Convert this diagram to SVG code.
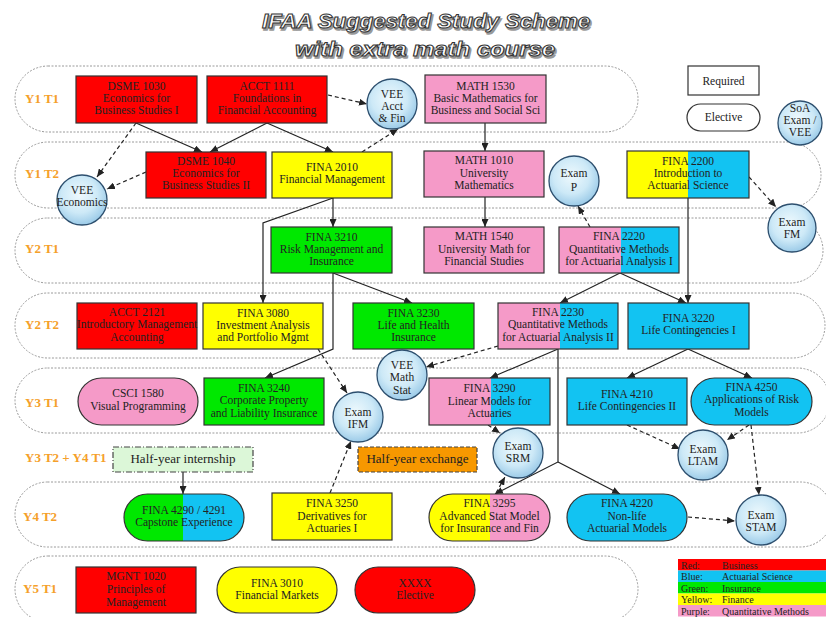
<svg xmlns="http://www.w3.org/2000/svg" width="826" height="617" viewBox="0 0 826 617">
<defs>
<style>
.band{fill:#fff;stroke:#9a9a9a;stroke-width:1;stroke-dasharray:2 1.5}
.n{stroke:#333;stroke-width:1.2}
.red{fill:#FF0000}.yel{fill:#FFFF00}.grn{fill:#00E800}.blu{fill:#12C3F2}.pnk{fill:#F59AC8}
.pb{fill:url(#gpb)}.yb{fill:url(#gyb)}.gb{fill:url(#ggb)}.yp{fill:url(#gyp)}
.t{font-family:"Liberation Serif","Times New Roman",serif;font-size:11.5px;fill:#222;text-anchor:middle}
.lbl{font-family:"Liberation Serif","Times New Roman",serif;font-size:13px;font-weight:bold;fill:#F5A02A}
.c{fill:url(#cg);stroke:#2d4f6e;stroke-width:1.3}
.s{fill:none;stroke:#222;stroke-width:1.2;marker-end:url(#ah)}
.d{fill:none;stroke:#222;stroke-width:1.2;stroke-dasharray:4 3;marker-end:url(#ah)}
.lg{font-family:"Liberation Serif","Times New Roman",serif;font-size:10px;fill:#222}
.ttl{font-family:"Liberation Sans",Arial,sans-serif;font-size:20px;font-weight:bold;font-style:italic;fill:#fff;stroke:#333;stroke-width:1}
.tsh{font-family:"Liberation Sans",Arial,sans-serif;font-size:20px;font-weight:bold;font-style:italic;fill:#999;stroke:#999;stroke-width:1.5}
</style>
<marker id="ah" markerUnits="userSpaceOnUse" markerWidth="9" markerHeight="7" refX="8" refY="3.5" orient="auto">
<path d="M0,0 L8,3.5 L0,7 z" fill="#222"/>
</marker>
<radialGradient id="cg" cx="0.45" cy="0.4" r="0.6">
<stop offset="0" stop-color="#eef9fd"/>
<stop offset="0.6" stop-color="#cde9f7"/>
<stop offset="1" stop-color="#9ccbe8"/>
</radialGradient>
<linearGradient id="gpb" x1="0" y1="0" x2="1" y2="0"><stop offset="0.515" stop-color="#F59AC8"/><stop offset="0.515" stop-color="#12C3F2"/></linearGradient>
<linearGradient id="gyb" x1="0" y1="0" x2="1" y2="0"><stop offset="0.5" stop-color="#FFFF00"/><stop offset="0.5" stop-color="#12C3F2"/></linearGradient>
<linearGradient id="ggb" x1="0" y1="0" x2="1" y2="0"><stop offset="0.49" stop-color="#00E800"/><stop offset="0.49" stop-color="#12C3F2"/></linearGradient>
<linearGradient id="gyp" x1="0" y1="0" x2="1" y2="0"><stop offset="0.5" stop-color="#FFFF00"/><stop offset="0.5" stop-color="#F59AC8"/></linearGradient>
</defs>
<rect x="0" y="0" width="826" height="617" fill="#fff"/>

<g id="title">
<text class="tsh" x="263.5" y="29.5" textLength="328" lengthAdjust="spacingAndGlyphs">IFAA Suggested Study Scheme</text>
<text class="ttl" x="262" y="28" textLength="328" lengthAdjust="spacingAndGlyphs">IFAA Suggested Study Scheme</text>
<text class="tsh" x="296.5" y="57.5" textLength="260" lengthAdjust="spacingAndGlyphs">with extra math course</text>
<text class="ttl" x="295" y="56" textLength="260" lengthAdjust="spacingAndGlyphs">with extra math course</text>
</g>

<g id="bands">
<rect class="band" x="15" y="66" width="623" height="66" rx="33"/>
<rect class="band" x="15" y="142" width="806" height="66" rx="33"/>
<rect class="band" x="15" y="218" width="808" height="65" rx="32.5"/>
<rect class="band" x="15" y="293" width="810" height="65" rx="32.5"/>
<rect class="band" x="15" y="368" width="815" height="65" rx="32.5"/>
<rect class="band" x="15" y="482" width="818" height="65" rx="32.5"/>
<rect class="band" x="15" y="556" width="623" height="66" rx="33"/>
<text class="lbl" x="25" y="103">Y1 T1</text>
<text class="lbl" x="25" y="178">Y1 T2</text>
<text class="lbl" x="25" y="253">Y2 T1</text>
<text class="lbl" x="25" y="329">Y2 T2</text>
<text class="lbl" x="25" y="407">Y3 T1</text>
<text class="lbl" x="25" y="462">Y3 T2 + Y4 T1</text>
<text class="lbl" x="23" y="521">Y4 T2</text>
<text class="lbl" x="23" y="593">Y5 T1</text>
</g>

<g id="connectors">
<path class="s" d="M136,123 L202,152"/>
<path class="s" d="M267,123 L210,152"/>
<path class="s" d="M267,123 L333,152"/>
<path class="s" d="M485,123 L485,151"/>
<path class="s" d="M485,197 L485,227"/>
<path class="s" d="M333,198 L333,227"/>
<path class="s" d="M333,198 L263,223 L263,303"/>
<path class="s" d="M333,273 L412,303"/>
<path class="s" d="M333,273 L333,349 L265,378"/>
<path class="s" d="M620,273 L560,303"/>
<path class="s" d="M620,273 L686,303"/>
<path class="s" d="M688,198 L688,303"/>
<path class="s" d="M558,349 L490,378"/>
<path class="s" d="M558,349 L558,462 L495,494"/>
<path class="s" d="M558,462 L620,494"/>
<path class="s" d="M688,349 L627,378"/>
<path class="s" d="M688,349 L752,378"/>
<path class="s" d="M183,472 L183,494"/>
<path class="d" d="M136,123 L97,177"/>
<path class="d" d="M146,172 L107,189"/>
<path class="d" d="M328,95 L367,104"/>
<path class="d" d="M362,152 L398,129"/>
<path class="d" d="M590,227 L578,206"/>
<path class="d" d="M749,177 L776,207"/>
<path class="d" d="M498,346 L426,367"/>
<path class="d" d="M318,349 L347,393"/>
<path class="d" d="M330,493 L351,441"/>
<path class="d" d="M488,425 L500,433"/>
<path class="d" d="M496,493 L505,477"/>
<path class="d" d="M627,425 L680,449"/>
<path class="d" d="M749,425 L727,440"/>
<path class="d" d="M751,425 L759,495"/>
<path class="d" d="M688,517 L735,521"/>
</g>

<g id="legend-required"><rect x="688" y="66" width="71" height="29" fill="#fff" class="n"/><text class="t" x="723.5" y="85">Required</text></g>
<g id="legend-elective"><rect x="687" y="104" width="73" height="27" rx="13.5" fill="#fff" class="n"/><text class="t" x="723.5" y="121">Elective</text></g>

<g id="dsme1030"><rect class="n red" x="76" y="76" width="121" height="47"/><text class="t" x="136.5" y="90">DSME 1030</text><text class="t" x="136.5" y="102">Economics for</text><text class="t" x="136.5" y="114">Business Studies I</text></g>
<g id="acct1111"><rect class="n red" x="207" y="76" width="120" height="47"/><text class="t" x="267" y="90">ACCT 1111</text><text class="t" x="267" y="102">Foundations in</text><text class="t" x="267" y="114">Financial Accounting</text></g>
<g id="vee-acct"><circle class="c" cx="392" cy="104" r="25"/><text class="t" x="392" y="98">VEE</text><text class="t" x="392" y="110">Acct</text><text class="t" x="392" y="122">&amp; Fin</text></g>
<g id="math1530"><rect class="n pnk" x="425" y="75" width="121" height="48"/><text class="t" x="485.5" y="90">MATH 1530</text><text class="t" x="485.5" y="102">Basic Mathematics for</text><text class="t" x="485.5" y="114">Business and Social Sci</text></g>
<g id="soa"><circle class="c" cx="800" cy="123" r="22"/><text class="t" x="800" y="112">SoA</text><text class="t" x="800" y="124">Exam /</text><text class="t" x="800" y="136">VEE</text></g>

<g id="dsme1040"><rect class="n red" x="146" y="152" width="120" height="46"/><text class="t" x="206" y="165">DSME 1040</text><text class="t" x="206" y="177">Economics for</text><text class="t" x="206" y="189">Business Studies II</text></g>
<g id="fina2010"><rect class="n yel" x="272" y="152" width="120" height="46"/><text class="t" x="332" y="171">FINA 2010</text><text class="t" x="332" y="183">Financial Management</text></g>
<g id="vee-econ"><circle class="c" cx="82" cy="200" r="25"/><text class="t" x="82" y="194">VEE</text><text class="t" x="82" y="206">Economics</text></g>
<g id="math1010"><rect class="n pnk" x="424" y="151" width="120" height="46"/><text class="t" x="484" y="164">MATH 1010</text><text class="t" x="484" y="177">University</text><text class="t" x="484" y="189">Mathematics</text></g>
<g id="exam-p"><circle class="c" cx="574" cy="181" r="25"/><text class="t" x="574" y="177">Exam</text><text class="t" x="574" y="191">P</text></g>
<g id="fina2200"><rect class="n yb" x="627" y="151" width="122" height="47"/><text class="t" x="688" y="165">FINA 2200</text><text class="t" x="688" y="177">Introduction to</text><text class="t" x="688" y="189">Actuarial Science</text></g>
<g id="exam-fm"><circle class="c" cx="792" cy="228" r="24"/><text class="t" x="792" y="226">Exam</text><text class="t" x="792" y="238">FM</text></g>

<g id="fina3210"><rect class="n grn" x="271" y="227" width="121" height="46"/><text class="t" x="331.5" y="241">FINA 3210</text><text class="t" x="331.5" y="253">Risk Management and</text><text class="t" x="331.5" y="265">Insurance</text></g>
<g id="math1540"><rect class="n pnk" x="424" y="227" width="120" height="46"/><text class="t" x="484" y="240">MATH 1540</text><text class="t" x="484" y="253">University Math for</text><text class="t" x="484" y="265">Financial Studies</text></g>
<g id="fina2220"><rect class="n pb" x="559" y="227" width="120" height="46"/><text class="t" x="619" y="240">FINA 2220</text><text class="t" x="619" y="253">Quantitative Methods</text><text class="t" x="619" y="265">for Actuarial Analysis I</text></g>

<g id="acct2121"><rect class="n red" x="77" y="303" width="120" height="46"/><text class="t" x="137" y="316">ACCT 2121</text><text class="t" x="137" y="328">Introductory Management</text><text class="t" x="137" y="341">Accounting</text></g>
<g id="fina3080"><rect class="n yel" x="203" y="303" width="120" height="46"/><text class="t" x="263" y="317">FINA 3080</text><text class="t" x="263" y="329">Investment Analysis</text><text class="t" x="263" y="341">and Portfolio Mgmt</text></g>
<g id="fina3230"><rect class="n grn" x="353" y="303" width="121" height="46"/><text class="t" x="413.5" y="317">FINA 3230</text><text class="t" x="413.5" y="329">Life and Health</text><text class="t" x="413.5" y="341">Insurance</text></g>
<g id="fina2230"><rect class="n pb" x="498" y="303" width="120" height="46"/><text class="t" x="558" y="316">FINA 2230</text><text class="t" x="558" y="328">Quantitative Methods</text><text class="t" x="558" y="341">for Actuarial Analysis II</text></g>
<g id="fina3220"><rect class="n blu" x="628" y="303" width="121" height="46"/><text class="t" x="688.5" y="322">FINA 3220</text><text class="t" x="688.5" y="334">Life Contingencies I</text></g>

<g id="csci1580"><rect class="n pnk" x="78" y="378" width="120" height="47" rx="23.5"/><text class="t" x="138" y="397">CSCI 1580</text><text class="t" x="138" y="410">Visual Programming</text></g>
<g id="fina3240"><rect class="n grn" x="204" y="378" width="120" height="47"/><text class="t" x="264" y="392">FINA 3240</text><text class="t" x="264" y="404">Corporate Property</text><text class="t" x="264" y="417">and Liability Insurance</text></g>
<g id="exam-ifm"><circle class="c" cx="358" cy="417" r="25"/><text class="t" x="358" y="416">Exam</text><text class="t" x="358" y="428">IFM</text></g>
<g id="vee-math"><circle class="c" cx="402" cy="375" r="25"/><text class="t" x="402" y="369">VEE</text><text class="t" x="402" y="381">Math</text><text class="t" x="402" y="394">Stat</text></g>
<g id="fina3290"><rect class="n pb" x="429" y="378" width="121" height="47"/><text class="t" x="489.5" y="392">FINA 3290</text><text class="t" x="489.5" y="405">Linear Models for</text><text class="t" x="489.5" y="417">Actuaries</text></g>
<g id="fina4210"><rect class="n blu" x="567" y="378" width="120" height="47"/><text class="t" x="627" y="398">FINA 4210</text><text class="t" x="627" y="410">Life Contingencies II</text></g>
<g id="fina4250"><rect class="n blu" x="691" y="378" width="121" height="47" rx="23.5"/><text class="t" x="751.5" y="391">FINA 4250</text><text class="t" x="751.5" y="403">Applications of Risk</text><text class="t" x="751.5" y="416">Models</text></g>
<g id="exam-srm"><circle class="c" cx="518" cy="453" r="25"/><text class="t" x="518" y="450">Exam</text><text class="t" x="518" y="462">SRM</text></g>
<g id="exam-ltam"><circle class="c" cx="703" cy="455" r="25"/><text class="t" x="703" y="453">Exam</text><text class="t" x="703" y="465">LTAM</text></g>

<g id="internship"><rect x="113" y="447" width="140" height="25" fill="#dcf7d8" stroke="#444" stroke-width="1.2" stroke-dasharray="6 2 1 2"/><text class="t" x="183" y="463" style="font-size:13px">Half-year internship</text></g>
<g id="exchange"><rect x="358" y="447" width="119" height="25" fill="#F79800" stroke="#444" stroke-width="1.2" stroke-dasharray="4 2"/><text class="t" x="417.5" y="463" style="font-size:13px">Half-year exchange</text></g>

<g id="fina4290"><rect class="n gb" x="124" y="494" width="120" height="47" rx="23.5"/><text class="t" x="184" y="514">FINA 4290 / 4291</text><text class="t" x="184" y="526">Capstone Experience</text></g>
<g id="fina3250"><rect class="n yel" x="272" y="493" width="120" height="47"/><text class="t" x="332" y="507">FINA 3250</text><text class="t" x="332" y="520">Derivatives for</text><text class="t" x="332" y="532">Actuaries I</text></g>
<g id="fina3295"><rect class="n yp" x="429" y="494" width="121" height="47" rx="23.5"/><text class="t" x="489.5" y="507">FINA 3295</text><text class="t" x="489.5" y="520">Advanced Stat Model</text><text class="t" x="489.5" y="532">for Insurance and Fin</text></g>
<g id="fina4220"><rect class="n blu" x="567" y="494" width="120" height="47" rx="23.5"/><text class="t" x="627" y="507">FINA 4220</text><text class="t" x="627" y="520">Non-life</text><text class="t" x="627" y="532">Actuarial Models</text></g>
<g id="exam-stam"><circle class="c" cx="761" cy="520" r="25"/><text class="t" x="761" y="519">Exam</text><text class="t" x="761" y="531">STAM</text></g>

<g id="mgnt1020"><rect class="n red" x="76" y="567" width="120" height="46"/><text class="t" x="136" y="580">MGNT 1020</text><text class="t" x="136" y="593">Principles of</text><text class="t" x="136" y="606">Management</text></g>
<g id="fina3010"><rect class="n yel" x="217" y="567" width="120" height="46" rx="23"/><text class="t" x="277" y="587">FINA 3010</text><text class="t" x="277" y="599">Financial Markets</text></g>
<g id="xxxx"><rect class="n red" x="355" y="567" width="120" height="46" rx="23"/><text class="t" x="415" y="587">XXXX</text><text class="t" x="415" y="599">Elective</text></g>

<g id="legend">
<rect x="678" y="559" width="150" height="11.5" fill="#FF0000"/>
<rect x="678" y="570.5" width="150" height="11.5" fill="#12C3F2"/>
<rect x="678" y="582" width="150" height="11.5" fill="#00E800"/>
<rect x="678" y="593.5" width="150" height="11.5" fill="#FFFF00"/>
<rect x="678" y="605" width="150" height="11.5" fill="#F59AC8"/>
<text class="lg" x="681" y="568.5">Red:</text><text class="lg" x="722" y="568.5">Business</text>
<text class="lg" x="681" y="580">Blue:</text><text class="lg" x="722" y="580">Actuarial Science</text>
<text class="lg" x="681" y="591.5">Green:</text><text class="lg" x="722" y="591.5">Insurance</text>
<text class="lg" x="681" y="603">Yellow:</text><text class="lg" x="722" y="603">Finance</text>
<text class="lg" x="681" y="614.5">Purple:</text><text class="lg" x="722" y="614.5">Quantitative Methods</text>
</g>
</svg>
